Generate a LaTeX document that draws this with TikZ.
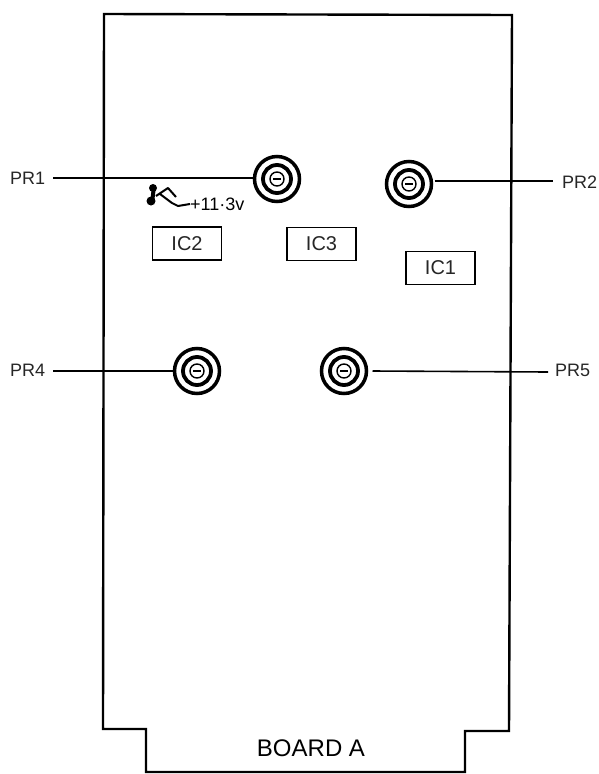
\documentclass[tikz,border=0pt]{standalone}
\usepackage{fontspec}
\setmainfont{Liberation Sans}
\tikzset{
 x=1pt,y=-1pt,
 board/.style={line width=2.4pt,line join=miter},
 lead/.style={line width=1.2pt},
 leadb/.style={line width=1.6pt},
 plab/.style={font=\fontsize{18}{20}\selectfont,inner sep=0pt,text=black!85},
 chip/.style={draw,line width=1.4pt,minimum width=69pt,minimum height=33pt,inner sep=0pt,font=\fontsize{20}{22}\selectfont,text=black!85},
 ringa/.style={circle,draw,line width=3.5pt,minimum size=45pt,inner sep=0pt,outer sep=0pt},
}
\newcommand{\pot}[2]{%
 \node[ringa] (#1) at (#2) {};
 \node[circle,draw,line width=3.8pt,minimum size=28pt,inner sep=0pt] at (#1) {};
 \node[circle,draw,line width=1.4pt,minimum size=14pt,inner sep=0pt] at (#1) {};
 \draw[line width=1.3pt] ([xshift=-4pt]#1.center) -- ([xshift=4pt]#1.center);
}
\begin{document}
\begin{tikzpicture}
\useasboundingbox (0,0) rectangle (598,774);
\fill[white] (0,0) rectangle (598,774);
\draw[board] (104,14) -- (512,15) -- (509,731) -- (465,731) -- (465,772) -- (146,772) -- (146,729) -- (103,729) -- cycle;
\pot{p1}{277,179}
\pot{p2}{409,184}
\pot{p4}{197,371}
\pot{p5}{344,371}
\node[plab,anchor=west] (l1) at (10,178) {PR1};
\node[plab,anchor=west] (l2) at (562,182) {PR2};
\node[plab,anchor=west] (l4) at (10,370) {PR4};
\node[plab,anchor=west] (l5) at (555,370) {PR5};
\draw[lead] ([xshift=8pt]l1.east) -- (p1.west |- l1.east);
\draw[lead] ([xshift=3pt,yshift=3pt]p2.east) -- ([xshift=-9pt,yshift=1pt]l2.west);
\draw[leadb] ([xshift=8pt,yshift=-1pt]l4.east) -- (p4.west);
\draw[leadb] ([xshift=6pt]p5.east) -- ([xshift=-7pt,yshift=-2pt]l5.west);
\node[chip] (ic2) at (187,243.5) {IC2};
\node[chip] (ic3) at (321.5,244) {IC3};
\node[chip] (ic1) at (440.5,268) {IC1};
\node[inner sep=0pt,anchor=west,font=\fontsize{18}{20}\selectfont] (v) at (190,204) {+11·3v};
\fill (153,188) circle (4) (151,201) circle (4.5);
\draw[line width=4pt] (154,186) -- (152,203);
\draw[line width=2pt,line join=round] (156,196) -- (168,188) -- (176,197) (160,194) -- (172,203) -- (178,206) -- (v.west);
\node[inner sep=0pt,font=\fontsize{24}{26}\selectfont] (b) at (311,748) {BOARD A};
\end{tikzpicture}
\end{document}
